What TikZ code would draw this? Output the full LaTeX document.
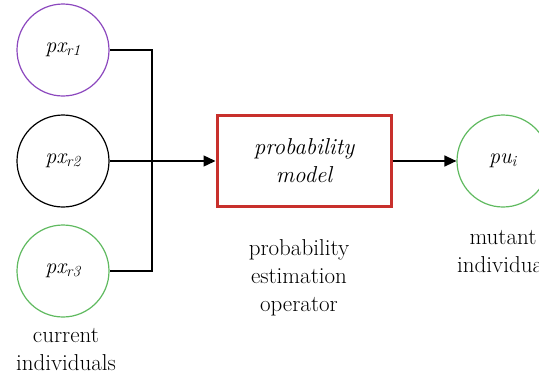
\documentclass[tikz,border=0pt]{standalone}
\usepackage{fontspec}
\usetikzlibrary{arrows.meta}
\definecolor{cpurple}{RGB}{140,72,190}
\definecolor{cgreen}{RGB}{96,186,96}
\definecolor{cred}{RGB}{200,48,44}
\tikzset{
  indiv/.style={circle,draw,line width=1.2pt,minimum size=92pt,inner sep=0pt,font=\fontsize{22}{24}\selectfont\itshape},
  modelbox/.style={draw=cred,line width=3pt,minimum width=174pt,minimum height=91pt,inner sep=0pt,align=center,font=\fontsize{23}{28}\selectfont\itshape},
  caption/.style={align=center,font=\fontsize{23}{28}\selectfont,inner sep=0pt},
  conn/.style={line width=1.4pt,black},
  arr/.style={conn,-{Triangle[length=12pt,width=11pt]}}
}
\begin{document}
\begin{tikzpicture}[x=1pt,y=-1pt]
\clip (0,0) rectangle (539,378);
\useasboundingbox (0,0) rectangle (539,378);
\node[indiv,draw=cpurple] (c1) at (63,50) {px\textsubscript{r1}};
\node[indiv,draw=black] (c2) at (63,161) {px\textsubscript{r2}};
\node[indiv,draw=cgreen] (c3) at (63,271) {px\textsubscript{r3}};
\node[modelbox] (box) at (304,161) {probability\\model};
\node[indiv,draw=cgreen] (c4) at (503,161) {pu\textsubscript{i}};
\coordinate (jx) at (152,161);
\draw[conn] (c1.east) -| (jx) |- (c3.east);
\draw[arr] (c2.east) -- (box.west);
\draw[arr] (box.east) -- (c4.west);
\node[caption] (t1) at (66,350) {current\\individuals};
\node[caption] (t2) at (299,278) {probability\\estimation\\operator};
\node[caption] (t3) at (503,252) {mutant\\individual};
\end{tikzpicture}
\end{document}
